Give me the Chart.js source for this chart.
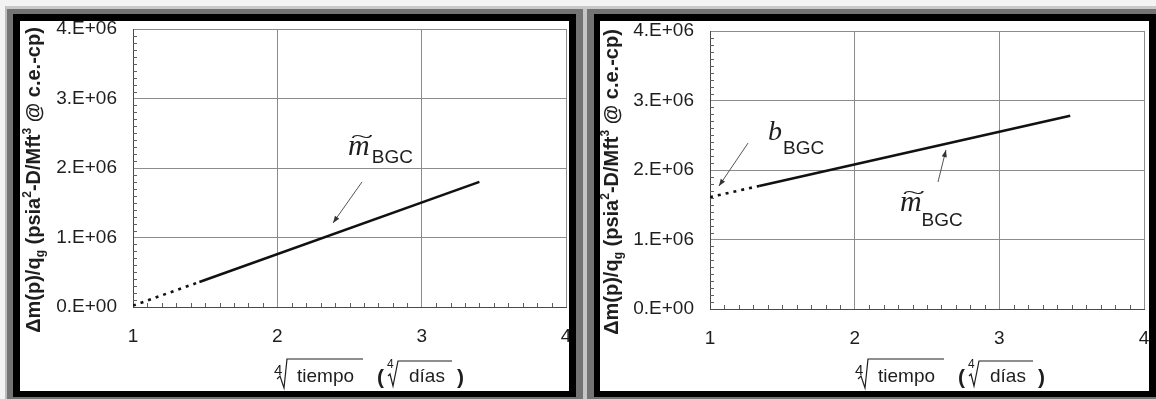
<!DOCTYPE html>
<html>
<head>
<meta charset="utf-8">
<script src="https://cdn.jsdelivr.net/npm/chart.js@4.4.0/dist/chart.umd.min.js"></script>
<style>
  html, body { margin: 0; padding: 0; background: #f3f3f3; }
  body { width: 1156px; height: 399px; position: relative; overflow: hidden; }
  .gray { position: absolute; background: #747474; box-sizing: border-box; border-top: 3px solid #c9c9c9; }
  .blk { position: absolute; background: #000; }
  canvas { position: absolute; background: #fff; }
</style>
</head>
<body>
<div class="gray" style="left:5px;top:6px;width:578px;height:393px;border-left:2px solid #bdbdbd"></div>
<div class="gray" style="left:583px;top:6px;width:573px;height:393px;border-left:4px solid #c6c6c6"></div>
<div class="blk" style="left:13px;top:14px;width:563px;height:383px"></div>
<div class="blk" style="left:594px;top:14px;width:562px;height:383px"></div>
<canvas id="c1" width="549" height="370" style="left:20px;top:21px"></canvas>
<canvas id="c2" width="549" height="370" style="left:600px;top:21px"></canvas>

<script>
// Tick labels
const xTickLabels = ['1', '2', '3', '4'];
const yTickLabels = ['0.E+00', '1.E+06', '2.E+06', '3.E+06', '4.E+06'];

// Left panel: extrapolated (dotted) and fitted (solid) straight line
const xDottedA = [1.00, 1.46];
const yDottedA = [0.02e6, 0.36e6];
const xSolidA = [1.46, 3.40];
const ySolidA = [0.36e6, 1.80e6];

// Right panel: intercept b_BGC extrapolated to x = 1
const xDottedB = [1.00, 1.34];
const yDottedB = [1.61e6, 1.77e6];
const xSolidB = [1.34, 3.49];
const ySolidB = [1.77e6, 2.78e6];

const SANS = '"Liberation Sans", Arial, sans-serif';
const SERIF = '"Liberation Serif", "Times New Roman", serif';
const INK = '#1e1e1e';

const toPts = (xs, ys) => xs.map((x, i) => ({ x: x, y: ys[i] }));

// Small inward minor ticks on both axes
const minorTicks = {
  id: 'minorTicks',
  afterDraw(chart) {
    const { ctx, chartArea: a, scales: { x, y } } = chart;
    ctx.save();
    ctx.strokeStyle = '#5e5e5e';
    ctx.lineWidth = 1;
    ctx.beginPath();
    for (let k = 1; k < 40; k++) {
      if (k % 10 === 0) continue;
      const py = Math.round(y.getPixelForValue(k * 1e5)) + 0.5;
      ctx.moveTo(a.left, py); ctx.lineTo(a.left + 4, py);
    }
    for (let k = 11; k < 40; k++) {
      if (k % 10 === 0) continue;
      const px = Math.round(x.getPixelForValue(k / 10)) + 0.5;
      ctx.moveTo(px, a.bottom); ctx.lineTo(px, a.bottom - 4);
    }
    ctx.stroke();
    ctx.restore();
  }
};

// Axis titles with sub/superscripts and the fourth-root sign
const axisTitles = {
  id: 'axisTitles',
  afterDraw(chart, args, opts) {
    const { ctx, chartArea: a } = chart;
    ctx.save();
    ctx.fillStyle = INK;
    ctx.strokeStyle = INK;

    // vertical title
    const runs = [
      { t: '\u0394m(p)/q' }, { t: 'g', s: 1 }, { t: ' (psia' }, { t: '2', s: -1 },
      { t: '-D/Mft' }, { t: '3', s: -1 }, { t: ' @ c.e.-cp)' }
    ];
    const big = 'bold 20px ' + SANS, small = 'bold 12px ' + SANS;
    let total = 0;
    runs.forEach(r => { ctx.font = r.s ? small : big; r.w = ctx.measureText(r.t).width; total += r.w; });
    ctx.translate(opts.yTitleX, (a.top + a.bottom) / 2 + opts.yTitleDy);
    ctx.rotate(-Math.PI / 2);
    ctx.textBaseline = 'alphabetic';
    let cx = -total / 2;
    runs.forEach(r => {
      ctx.font = r.s ? small : big;
      const dy = r.s === 1 ? 9 : (r.s === -1 ? -4 : 5);
      ctx.fillText(r.t, cx, dy);
      cx += r.w;
    });
    ctx.setTransform(1, 0, 0, 1, 0, 0);

    // horizontal title:  4√tiempo  ( 4√días )
    const x0 = a.left + opts.xTitleDx, yb = a.bottom + opts.xTitleDy;
    ctx.textBaseline = 'alphabetic';
    ctx.font = '15px ' + SANS;
    ctx.fillText('4', x0 - 1, yb - 7);
    ctx.lineWidth = 1.2;
    const path = pts => {
      ctx.beginPath();
      pts.forEach((p, i) => i ? ctx.lineTo(x0 + p[0], yb + p[1]) : ctx.moveTo(x0 + p[0], yb + p[1]));
      ctx.stroke();
    };
    path([[2, -3], [5, -6], [9, 6], [12, -23], [88, -23]]);
    ctx.font = '19px ' + SANS;
    ctx.fillText('tiempo', x0 + 22, yb);
    ctx.font = 'bold 21px ' + SANS;
    ctx.fillText('(', x0 + 102, yb + 2);
    ctx.font = '12px ' + SANS;
    ctx.fillText('4', x0 + 112, yb - 14);
    path([[113, -6], [115, -8], [118, 4], [123, -21], [177, -21]]);
    ctx.font = '19px ' + SANS;
    ctx.fillText('d\u00edas', x0 + 134, yb);
    ctx.font = 'bold 21px ' + SANS;
    ctx.fillText(')', x0 + 182, yb + 2);
    ctx.restore();
  }
};

// Slope / intercept labels with pointer arrows
const notes = {
  id: 'notes',
  afterDatasetsDraw(chart, args, opts) {
    const { ctx, scales: { x, y } } = chart;
    const P = v => [x.getPixelForValue(v[0]), y.getPixelForValue(v[1])];
    ctx.save();
    opts.items.forEach(it => {
      if (it.type === 'arrow') {
        const [x1, y1] = P(it.from), [x2, y2] = P(it.to);
        ctx.strokeStyle = '#555'; ctx.fillStyle = '#333'; ctx.lineWidth = 1;
        ctx.beginPath(); ctx.moveTo(x1, y1); ctx.lineTo(x2, y2); ctx.stroke();
        const ang = Math.atan2(y2 - y1, x2 - x1), L = 7, W = 2.6;
        ctx.beginPath();
        ctx.moveTo(x2, y2);
        ctx.lineTo(x2 - L * Math.cos(ang) + W * Math.sin(ang), y2 - L * Math.sin(ang) - W * Math.cos(ang));
        ctx.lineTo(x2 - L * Math.cos(ang) - W * Math.sin(ang), y2 - L * Math.sin(ang) + W * Math.cos(ang));
        ctx.closePath(); ctx.fill();
      } else {
        const [px, py] = P(it.at);
        ctx.fillStyle = INK;
        ctx.textBaseline = 'alphabetic';
        ctx.font = 'italic ' + it.size + 'px ' + SERIF;
        ctx.fillText(it.glyph, px, py);
        const w = ctx.measureText(it.glyph).width;
        if (it.tilde) {
          ctx.save();
          ctx.font = '26px ' + SERIF;
          ctx.textAlign = 'center';
          ctx.translate(px + w / 2 + 3, py - 12);
          ctx.scale(1.6, 0.7);
          ctx.fillText('~', 0, 0);
          ctx.restore();
        }
        ctx.font = '19px ' + SANS;
        ctx.fillText(it.sub, px + w + it.subDx, py + it.subDy);
      }
    });
    ctx.restore();
  }
};

function makeChart(id, dotted, solid, lay, items) {
  const tickFont = { family: SANS, size: 19 };
  return new Chart(document.getElementById(id), {
    type: 'line',
    data: {
      datasets: [
        { data: dotted, borderColor: '#111', borderWidth: 2.6, borderDash: [3, 5], pointRadius: 0, tension: 0 },
        { data: solid, borderColor: '#111', borderWidth: 2.6, pointRadius: 0, tension: 0 }
      ]
    },
    options: {
      responsive: false,
      animation: false,
      events: [],
      layout: { padding: { top: lay.top, right: lay.right, left: 0, bottom: 0 } },
      plugins: {
        legend: { display: false },
        tooltip: { enabled: false },
        notes: { items: items },
        axisTitles: { yTitleX: lay.yTitleX, yTitleDy: 12, xTitleDx: lay.xTitleDx, xTitleDy: lay.xTitleDy }
      },
      scales: {
        x: {
          type: 'linear', min: 1, max: 4,
          ticks: { stepSize: 1, font: tickFont, color: INK, padding: 18, maxRotation: 0, autoSkip: false,
                   callback: v => xTickLabels[Math.round(v) - 1] },
          grid: { color: '#8c8c8c', lineWidth: 1, drawTicks: false },
          border: { color: '#4a4a4a', width: 1 },
          afterFit(s) { s.height = lay.xH; s.paddingLeft = 0; s.paddingRight = 0; }
        },
        y: {
          type: 'linear', min: 0, max: 4e6,
          ticks: { stepSize: 1e6, font: tickFont, color: INK, padding: 16,
                   callback: v => yTickLabels[Math.round(v / 1e6)] },
          grid: { color: '#8c8c8c', lineWidth: 1, drawTicks: false },
          border: { color: '#4a4a4a', width: 1 },
          afterFit(s) { s.width = lay.yW; s.paddingTop = 0; s.paddingBottom = 0; }
        }
      }
    },
    plugins: [minorTicks, axisTitles, notes]
  });
}

makeChart('c1', toPts(xDottedA, yDottedA), toPts(xSolidA, ySolidA),
  { top: 8, right: 3, yW: 113, xH: 84, yTitleX: 15, xTitleDx: 142, xTitleDy: 75 },
  [
    { type: 'label', glyph: 'm', tilde: true, sub: 'BGC', at: [2.49, 2.187e6], size: 30, subDx: 2, subDy: 8 },
    { type: 'arrow', from: [2.587, 1.80e6], to: [2.386, 1.21e6] }
  ]);

makeChart('c2', toPts(xDottedB, yDottedB), toPts(xSolidB, ySolidB),
  { top: 10, right: 5, yW: 110, xH: 82, yTitleX: 13, xTitleDx: 146, xTitleDy: 73 },
  [
    { type: 'label', glyph: 'b', tilde: false, sub: 'BGC', at: [1.401, 2.432e6], size: 28, subDx: 1, subDy: 14 },
    { type: 'arrow', from: [1.263, 2.388e6], to: [1.062, 1.770e6] },
    { type: 'label', glyph: 'm', tilde: true, sub: 'BGC', at: [2.313, 1.41e6], size: 30, subDx: 0, subDy: 15 },
    { type: 'arrow', from: [2.576, 1.827e6], to: [2.631, 2.288e6] }
  ]);
</script>
</body>
</html>
